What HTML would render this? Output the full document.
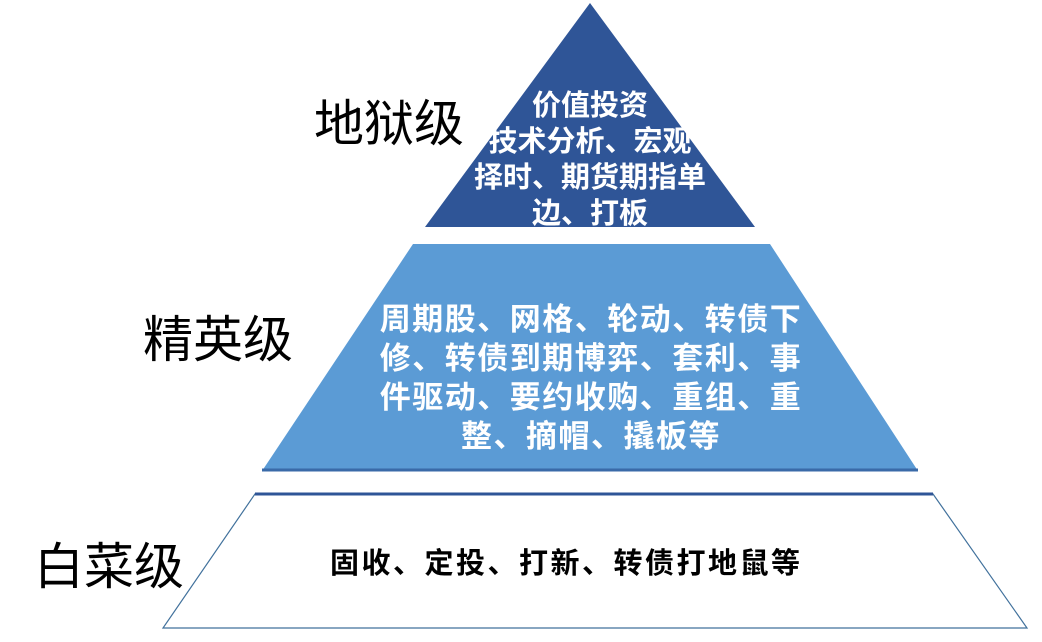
<!DOCTYPE html>
<html><head><meta charset="utf-8"><style>
body{margin:0;width:1042px;height:642px;background:#fff;position:relative;overflow:hidden;font-family:"Liberation Sans","Noto Sans CJK SC",sans-serif}
.t{position:absolute;white-space:nowrap;font-weight:bold}
.lab{font-size:50px;color:#000;font-weight:normal}
.w{color:#fff;font-size:29px;text-align:center;line-height:36px;width:460px;left:360px}
</style></head><body>
<svg width="1042" height="642" style="position:absolute;left:0;top:0">
<polygon points="590,3 755,227 425,227" fill="#2f5597"/>
<polygon points="413,244 770,244 918,471 262,471" fill="#5b9bd5"/>
<line x1="262" y1="470" x2="918" y2="470" stroke="#3a6aa8" stroke-width="3"/>
<polygon points="255,494 933,494 1027,628 163,628" fill="#fff" stroke="#41719c" stroke-width="1.2"/>
<line x1="255" y1="494" x2="933" y2="494" stroke="#2f5597" stroke-width="3"/>
</svg>
<div class="t lab" style="left:314px;top:84px">地狱级</div>
<div class="t lab" style="left:143px;top:300px">精英级</div>
<div class="t lab" style="left:34px;top:527px">白菜级</div>
<div class="t w" style="top:88px;line-height:36px">价值投资<br>技术分析、宏观<br>择时、期货期指单<br>边、打板</div>
<div class="t w" style="top:300px;line-height:39px;font-size:31px;letter-spacing:1.5px;left:361px">周期股、网格、轮动、转债下<br>修、转债到期博弈、套利、事<br>件驱动、要约收购、重组、重<br>整、摘帽、撬板等</div>
<div class="t" style="left:330px;top:540px;font-size:29px;letter-spacing:2.5px;color:#000">固收、定投、打新、转债打地鼠等</div>
</body></html>
